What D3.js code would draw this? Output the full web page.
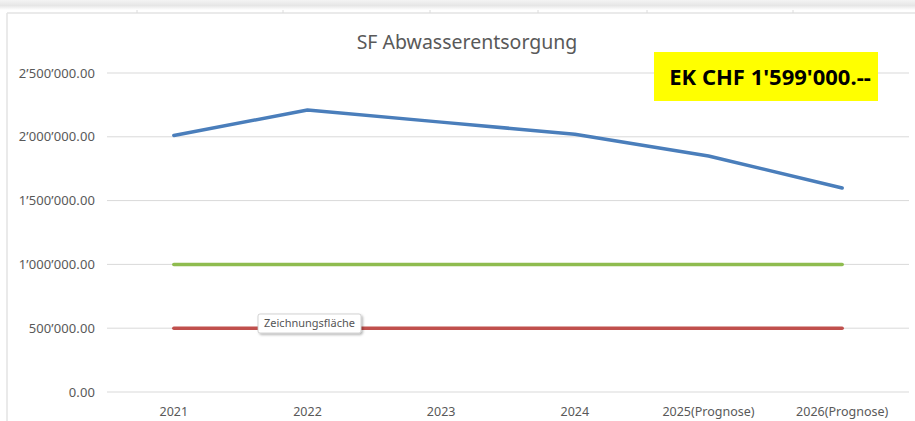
<!DOCTYPE html>
<html>
<head>
<meta charset="utf-8">
<script src="https://cdn.jsdelivr.net/npm/d3@7"></script>
<style>
  body { margin: 0; background: #fff; }
  svg { display: block; font-family: "Noto Sans", "Open Sans", sans-serif; }
</style>
</head>
<body>
<svg id="chart" width="915" height="421"></svg>
<script>
const categories = ['2021', '2022', '2023', '2024', '2025(Prognose)', '2026(Prognose)'];
const blueValues = [2010000, 2210000, 2115000, 2020000, 1850000, 1599000];
const greenValues = [1000000, 1000000, 1000000, 1000000, 1000000, 1000000];
const redValues = [500000, 500000, 500000, 500000, 500000, 500000];
const yTicks = [0, 500000, 1000000, 1500000, 2000000, 2500000];
const title = 'SF Abwasserentsorgung';
const badge = "EK CHF 1'599'000.--";
const tooltip = 'Zeichnungsfläche';

const svg = d3.select('#chart');

// grey strip along the top (window chrome)
const defs = svg.append('defs');
const grad = defs.append('linearGradient').attr('id', 'topband').attr('x1', 0).attr('y1', 0).attr('x2', 0).attr('y2', 1);
grad.append('stop').attr('offset', '0%').attr('stop-color', '#f4f4f4');
grad.append('stop').attr('offset', '55%').attr('stop-color', '#e6e6e6');
grad.append('stop').attr('offset', '100%').attr('stop-color', '#ffffff');
svg.append('rect').attr('x', 0).attr('y', 0).attr('width', 915).attr('height', 10).attr('fill', 'url(#topband)');

// faint sheet cell lines behind the chart
svg.append('line').attr('x1', 7).attr('x2', 915).attr('y1', 13).attr('y2', 13).attr('stroke', '#e3e3e3').attr('stroke-width', 1.5);
svg.append('line').attr('x1', 7).attr('x2', 7).attr('y1', 13).attr('y2', 421).attr('stroke', '#e3e3e3').attr('stroke-width', 1.5);
[137, 283, 430, 538, 647, 793].forEach(x => {
  svg.append('line').attr('x1', x).attr('x2', x).attr('y1', 10).attr('y2', 13).attr('stroke', '#dcdcdc');
});

const x = d3.scaleBand().domain(categories).range([107, 909]);
const y = d3.scaleLinear().domain([0, 2500000]).range([392, 73]);

const fmt = v => d3.format(',.2f')(v).replace(/,/g, '\u2019');

// gridlines
svg.append('g')
  .selectAll('line')
  .data(yTicks)
  .join('line')
  .attr('x1', 107).attr('x2', 909)
  .attr('y1', d => y(d)).attr('y2', d => y(d))
  .attr('stroke', '#d9d9d9').attr('stroke-width', 1);

// y labels
svg.append('g')
  .selectAll('text')
  .data(yTicks)
  .join('text')
  .attr('x', 95)
  .attr('y', d => y(d))
  .attr('dy', '0.35em')
  .attr('text-anchor', 'end')
  .attr('font-size', 13)
  .attr('letter-spacing', 0.1)
  .attr('fill', '#595959')
  .text(fmt);

// x labels
svg.append('g')
  .selectAll('text')
  .data(categories)
  .join('text')
  .attr('x', d => x(d) + x.bandwidth() / 2)
  .attr('y', 412)
  .attr('dy', '0.35em')
  .attr('text-anchor', 'middle')
  .attr('font-size', 12.5)
  .attr('fill', '#595959')
  .text(d => d);

const line = d3.line()
  .x((d, i) => x(categories[i]) + x.bandwidth() / 2)
  .y(d => y(d));

const series = [
  { values: redValues, color: '#c0504d' },
  { values: greenValues, color: '#8fbc4f' },
  { values: blueValues, color: '#4a7ebb' }
];

svg.append('g')
  .selectAll('path')
  .data(series)
  .join('path')
  .attr('d', d => line(d.values))
  .attr('fill', 'none')
  .attr('stroke', d => d.color)
  .attr('stroke-width', 3.5)
  .attr('stroke-linejoin', 'round')
  .attr('stroke-linecap', 'round');

// title
svg.append('text')
  .attr('x', 467).attr('y', 42)
  .attr('dy', '0.35em')
  .attr('text-anchor', 'middle')
  .attr('font-size', 19.5)
  .attr('fill', '#595959')
  .text(title);

// yellow badge
svg.append('rect')
  .attr('x', 654).attr('y', 52).attr('width', 224).attr('height', 49)
  .attr('fill', '#ffff00');
svg.append('text')
  .attr('x', 770).attr('y', 77)
  .attr('dy', '0.35em')
  .attr('text-anchor', 'middle')
  .attr('font-size', 22)
  .attr('font-weight', 'bold')
  .attr('fill', '#000')
  .text(badge);

// tooltip
const filt = defs.append('filter').attr('id', 'shadow').attr('x', '-20%').attr('y', '-30%').attr('width', '140%').attr('height', '170%');
filt.append('feDropShadow').attr('dx', 1.5).attr('dy', 1.5).attr('stdDeviation', 1.2).attr('flood-color', '#000').attr('flood-opacity', 0.3);
svg.append('rect')
  .attr('x', 258).attr('y', 314).attr('width', 103).attr('height', 19).attr('rx', 2)
  .attr('fill', '#fff').attr('stroke', '#c8c8c8').attr('stroke-width', 0.8)
  .attr('filter', 'url(#shadow)');
svg.append('text')
  .attr('x', 309.5).attr('y', 323.5)
  .attr('dy', '0.35em')
  .attr('text-anchor', 'middle')
  .attr('font-size', 11)
  .attr('fill', '#555')
  .text(tooltip);
</script>
</body>
</html>
